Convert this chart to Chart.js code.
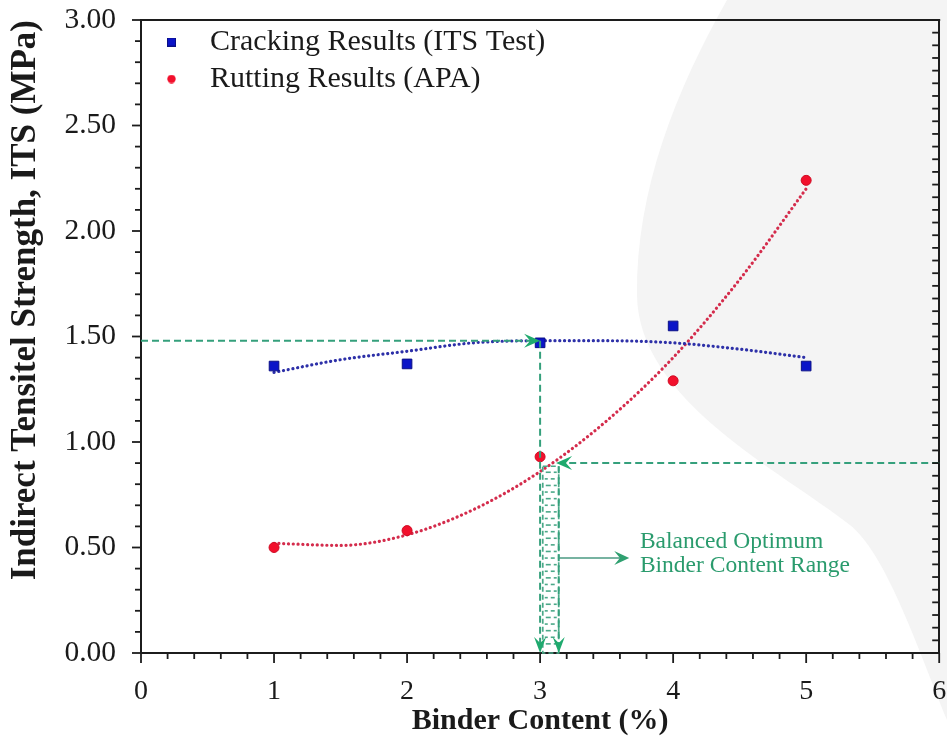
<!DOCTYPE html>
<html>
<head>
<meta charset="utf-8">
<title>Indirect Tensile Strength vs Binder Content</title>
<script src="https://cdn.jsdelivr.net/npm/chart.js@4.4.1/dist/chart.umd.min.js"></script>
<style>
  html, body { margin: 0; padding: 0; background: #ffffff; }
  #wrap { width: 947px; height: 741px; position: relative; }
  canvas { display: block; }
</style>
</head>
<body>
<div id="wrap"><canvas id="chart" width="947" height="741"></canvas></div>
<script>
// ---- measured results ----
const binderContent = [1, 2, 3, 4, 5];
const crackingITS  = [1.36, 1.37, 1.47, 1.55, 1.36];
const ruttingITS   = [0.50, 0.58, 0.93, 1.29, 2.24];

// ---- dotted trend curves ----
const trendX        = [1, 1.5, 2, 2.5, 3, 3.5, 4, 4.5, 5];
const crackingTrend = [1.33, 1.39, 1.43, 1.47, 1.48, 1.48, 1.47, 1.44, 1.40];
const ruttingTrend  = [0.52, 0.51, 0.56, 0.68, 0.86, 1.10, 1.40, 1.77, 2.20];

// ---- axis tick labels ----
const xTickLabels = ['0', '1', '2', '3', '4', '5', '6'];
const yTickLabels = ['0.00', '0.50', '1.00', '1.50', '2.00', '2.50', '3.00'];

// ---- optimum guides (binder %, ITS MPa) ----
const crackingGuide = [3.00, 1.48];        // peak of cracking curve
const ruttingGuide  = [3.12, 0.90];        // rutting curve crossing
const rangeBand     = [3.02, 3.14, 0.885]; // left, right, top of optimum band
const noteArrow     = [3.14, 3.67, 0.45];  // from, to, level
const noteAnchor    = [3.75, 0.498];
const noteLines     = ['Balanced Optimum', 'Binder Content Range'];

const SERIF = "'Liberation Serif', 'Times New Roman', Times, serif";
const GREEN_LINE = '#35a07c';
const GREEN_HEAD = '#1faa6e';
const GREEN_TEXT = '#2a9b6d';
const AXIS = '#1c1c1c';

function markerImage(shape, size, fill, edge) {
  const cv = document.createElement('canvas');
  cv.width = size; cv.height = size;
  const g = cv.getContext('2d');
  g.fillStyle = fill;
  g.strokeStyle = edge;
  g.lineWidth = 1;
  if (shape === 'rect') {
    g.fillRect(0, 0, size, size);
    g.strokeRect(0.5, 0.5, size - 1, size - 1);
  } else {
    g.beginPath();
    g.arc(size / 2, size / 2, size / 2 - 0.3, 0, Math.PI * 2);
    g.fill();
  }
  return cv;
}
const legendSquare = markerImage('rect', 9, '#0b14c8', '#0a0f86');
const legendDot = markerImage('circle', 9, '#f2102c', '#c00a20');

// barbed arrow head, tip at (x, y), pointing along angle
function arrowHead(ctx, x, y, angle, len, half, color) {
  ctx.save();
  ctx.translate(x, y);
  ctx.rotate(angle);
  ctx.fillStyle = color;
  ctx.beginPath();
  ctx.moveTo(0, 0);
  ctx.lineTo(-len, -half);
  ctx.lineTo(-len * 0.62, 0);
  ctx.lineTo(-len, half);
  ctx.closePath();
  ctx.fill();
  ctx.restore();
}

function segment(ctx, x1, y1, x2, y2) {
  ctx.beginPath();
  ctx.moveTo(x1, y1);
  ctx.lineTo(x2, y2);
  ctx.stroke();
}

function noPadding(s) {
  s.paddingLeft = 0; s.paddingRight = 0;
  s.paddingTop = 0; s.paddingBottom = 0;
}

const decor = {
  id: 'decor',
  beforeDraw(chart) {
    const { ctx, width, height } = chart;
    ctx.save();
    ctx.fillStyle = '#ffffff';
    ctx.fillRect(0, 0, width, height);
    // faint emblem in the background
    ctx.fillStyle = '#f4f4f4';
    ctx.beginPath();
    ctx.moveTo(727, 0);
    ctx.bezierCurveTo(676, 90, 636, 190, 637, 295);
    ctx.bezierCurveTo(638, 400, 780, 470, 850, 525);
    ctx.bezierCurveTo(885, 553, 915, 640, 947, 720);
    ctx.lineTo(947, 0);
    ctx.closePath();
    ctx.fill();
    ctx.restore();
  },
  afterDatasetsDraw(chart) {
    const { ctx, chartArea: a, scales: { x, y } } = chart;
    ctx.save();
    ctx.lineWidth = 2;
    ctx.strokeStyle = GREEN_LINE;
    ctx.setLineDash([7, 4]);

    // cracking optimum guide: from the axis to the peak, then down
    const cx = x.getPixelForValue(crackingGuide[0]);
    const cy = y.getPixelForValue(crackingGuide[1]);
    segment(ctx, a.left, cy, cx - 8, cy);
    segment(ctx, cx, cy, cx, a.bottom - 8);

    // rutting guide: from the right edge to the curve
    const rx = x.getPixelForValue(ruttingGuide[0]);
    const ry = y.getPixelForValue(ruttingGuide[1]);
    segment(ctx, a.right, ry, rx + 8, ry);

    // optimum band
    const bl = x.getPixelForValue(rangeBand[0]);
    const br = x.getPixelForValue(rangeBand[1]);
    const bt = y.getPixelForValue(rangeBand[2]);
    ctx.lineWidth = 1.7;
    ctx.setLineDash([5, 3]);
    ctx.strokeStyle = '#4aa888';
    ctx.strokeRect(bl, bt, br - bl, a.bottom - bt);
    ctx.lineWidth = 1.6;
    ctx.setLineDash([]);
    let row = 0;
    for (let yy = bt + 6; yy < a.bottom - 3; yy += 6.6, row++) {
      if (row % 2 === 0) {
        segment(ctx, bl + 3, yy, bl + 8, yy);
        segment(ctx, bl + 11, yy, br - 2, yy);
      } else {
        segment(ctx, bl + 2, yy, bl + 5, yy);
        segment(ctx, bl + 8, yy, br - 4, yy);
      }
    }
    ctx.lineWidth = 2;
    ctx.strokeStyle = GREEN_LINE;
    ctx.setLineDash([7, 4]);
    segment(ctx, br, bt, br, a.bottom - 8);
    ctx.setLineDash([]);

    // arrow heads
    arrowHead(ctx, cx, cy, 0, 16, 7, GREEN_HEAD);
    arrowHead(ctx, cx, a.bottom, Math.PI / 2, 16, 6, GREEN_HEAD);
    arrowHead(ctx, br, a.bottom, Math.PI / 2, 16, 6, GREEN_HEAD);
    arrowHead(ctx, rx, ry, Math.PI, 16, 7, GREEN_HEAD);

    // pointer to the note
    const ax1 = x.getPixelForValue(noteArrow[0]);
    const ax2 = x.getPixelForValue(noteArrow[1]);
    const ay = y.getPixelForValue(noteArrow[2]);
    ctx.strokeStyle = '#4a9a82';
    ctx.lineWidth = 1.6;
    segment(ctx, ax1, ay, ax2 - 6, ay);
    arrowHead(ctx, ax2, ay, 0, 15, 7, '#2fa070');

    // note text
    ctx.fillStyle = GREEN_TEXT;
    ctx.font = '23.5px ' + SERIF;
    ctx.textAlign = 'left';
    ctx.textBaseline = 'alphabetic';
    const nx = x.getPixelForValue(noteAnchor[0]);
    const ny = y.getPixelForValue(noteAnchor[1]);
    ctx.fillText(noteLines[0], nx, ny);
    ctx.fillText(noteLines[1], nx, ny + 24);
    ctx.restore();
  },
  afterDraw(chart) {
    const { ctx, chartArea: a, scales: { x, y } } = chart;
    ctx.save();
    ctx.strokeStyle = AXIS;
    ctx.lineWidth = 2;
    // top frame
    segment(ctx, a.left - 1, a.top, a.right + 1, a.top);
    ctx.lineWidth = 1.8;
    // left axis ticks (outward), every 0.1
    for (let k = 0; k <= 30; k++) {
      const py = y.getPixelForValue(k / 10);
      const len = k % 5 === 0 ? 9 : 6;
      segment(ctx, a.left - len, py, a.left, py);
    }
    // bottom axis ticks (outward), every 0.2
    for (let k = 0; k <= 30; k++) {
      const px = x.getPixelForValue(k / 5);
      const len = k % 5 === 0 ? 10 : 6;
      segment(ctx, px, a.bottom, px, a.bottom + len);
    }
    // right axis ticks (inward)
    for (let k = 0; k <= 50; k++) {
      const py = y.getPixelForValue(k * 0.06);
      segment(ctx, a.right - 7, py, a.right, py);
    }
    ctx.restore();
  }
};

const chart = new Chart(document.getElementById('chart'), {
  type: 'scatter',
  data: {
    datasets: [
      {
        label: 'Cracking Results (ITS Test)',
        data: binderContent.map((b, i) => ({ x: b, y: crackingITS[i] })),
        pointStyle: 'rect',
        pointRadius: 6.8,
        backgroundColor: '#0b14c8',
        borderColor: '#0a0f86',
        borderWidth: 1,
        order: 0
      },
      {
        label: 'Rutting Results (APA)',
        data: binderContent.map((b, i) => ({ x: b, y: ruttingITS[i] })),
        pointStyle: 'circle',
        pointRadius: 5,
        backgroundColor: '#f2102c',
        borderColor: '#d00c24',
        borderWidth: 1,
        order: 0
      },
      {
        label: 'Cracking trend',
        type: 'line',
        data: trendX.map((b, i) => ({ x: b, y: crackingTrend[i] })),
        borderColor: '#2d30a8',
        borderWidth: 3.2,
        borderDash: [0.1, 4.7],
        borderCapStyle: 'round',
        cubicInterpolationMode: 'monotone',
        pointRadius: 0,
        fill: false,
        order: 1
      },
      {
        label: 'Rutting trend',
        type: 'line',
        data: trendX.map((b, i) => ({ x: b, y: ruttingTrend[i] })),
        borderColor: '#d42c4c',
        borderWidth: 3.2,
        borderDash: [0.1, 4.7],
        borderCapStyle: 'round',
        cubicInterpolationMode: 'monotone',
        pointRadius: 0,
        fill: false,
        order: 1
      }
    ]
  },
  options: {
    responsive: false,
    animation: false,
    devicePixelRatio: 1,
    layout: { padding: { top: 20, left: 0, right: 0, bottom: 0 } },
    plugins: {
      tooltip: { enabled: false },
      legend: {
        position: 'chartArea',
        align: 'start',
        title: { display: true, text: ' ', font: { size: 10 }, padding: { top: 4, bottom: 4 } },
        labels: {
          usePointStyle: true,
          pointStyleWidth: 47,
          padding: 7,
          color: '#1a1a1a',
          font: { family: SERIF, size: 30 },
          generateLabels: (ch) => ch.data.datasets.slice(0, 2).map((ds, i) => ({
            text: ds.label,
            datasetIndex: i,
            pointStyle: i === 0 ? legendSquare : legendDot,
            fillStyle: ds.backgroundColor,
            strokeStyle: ds.borderColor,
            lineWidth: 0,
            hidden: false,
            fontColor: '#1a1a1a'
          }))
        }
      }
    },
    scales: {
      x: {
        type: 'linear',
        min: 0,
        max: 6,
        afterFit: (s) => { s.height = 88; noPadding(s); },
        ticks: {
          stepSize: 1,
          padding: 22,
          color: '#1a1a1a',
          font: { family: SERIF, size: 28 },
          callback: (v, i) => xTickLabels[i]
        },
        grid: { display: false, drawTicks: false },
        border: { display: true, color: AXIS, width: 2 },
        title: {
          display: true,
          text: 'Binder Content (%)',
          color: '#1a1a1a',
          font: { family: SERIF, size: 30, weight: 'bold' },
          padding: { top: 0, bottom: 2 }
        }
      },
      y: {
        type: 'linear',
        position: 'left',
        min: 0,
        max: 3,
        afterFit: (s) => { s.width = 141; noPadding(s); },
        ticks: {
          stepSize: 0.5,
          padding: 25,
          color: '#1a1a1a',
          font: { family: SERIF, size: 29.5 },
          callback: (v, i) => yTickLabels[i]
        },
        grid: { display: false, drawTicks: false },
        border: { display: true, color: AXIS, width: 2 },
        title: {
          display: true,
          text: 'Indirect Tensitel Strength, ITS (MPa)',
          align: 'end',
          color: '#1a1a1a',
          font: { family: SERIF, size: 35, weight: 'bold' },
          padding: { top: 5, bottom: 0 }
        }
      },
      y2: {
        type: 'linear',
        position: 'right',
        min: 0,
        max: 3,
        afterFit: (s) => { s.width = 7; noPadding(s); },
        ticks: { display: false },
        grid: { display: false, drawTicks: false },
        border: { display: true, color: AXIS, width: 2 }
      }
    }
  },
  plugins: [decor]
});
</script>
</body>
</html>
